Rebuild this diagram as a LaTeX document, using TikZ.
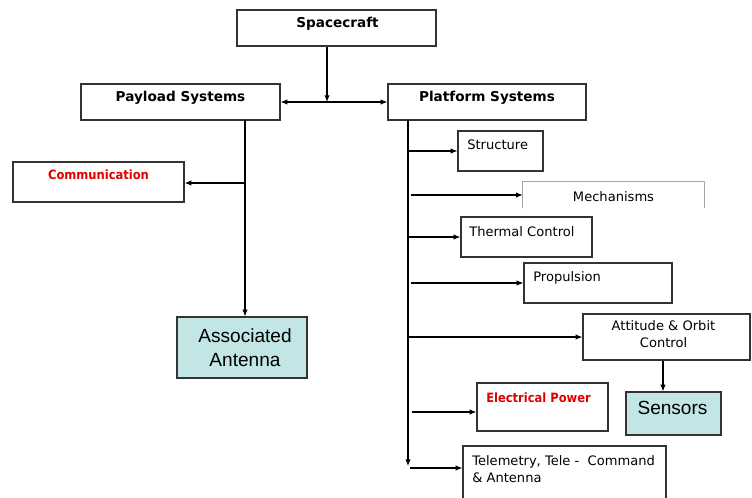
\documentclass[tikz,border=0pt]{standalone}
\usepackage{fontspec}
\setmainfont{DejaVu Sans}
\newfontfamily\arialf{Liberation Sans}
\newfontfamily\condf{DejaVu Sans Condensed}
\usetikzlibrary{arrows.meta}
\definecolor{teal1}{HTML}{C2E5E5}
\definecolor{red1}{HTML}{E00000}
\definecolor{bord}{HTML}{333333}
\tikzset{
  box/.style={draw=bord, line width=0.9pt, rectangle, inner sep=0pt},
  tbox/.style={box, fill=teal1},
  lbl/.style={inner sep=0pt, font=\fontsize{9.8}{12}\selectfont},
  blbl/.style={inner sep=0pt, font=\fontsize{10.2}{12}\selectfont\bfseries},
  rlbl/.style={inner sep=0pt, text=red1, font=\fontsize{9.6}{11}\selectfont\condf\bfseries},
  biglbl/.style={inner sep=0pt, font=\fontsize{14.3}{17}\selectfont\arialf, align=center},
  arr/.style={draw=black, line width=0.8pt, -{Latex[length=5pt,width=4pt]}},
  darr/.style={draw=black, line width=0.8pt, {Latex[length=5pt,width=4pt]}-{Latex[length=5pt,width=4pt]}},
  ln/.style={draw=black, line width=0.8pt}
}
\begin{document}
\begin{tikzpicture}[x=0.75pt, y=-0.75pt]
\useasboundingbox[fill=white] (0,0) rectangle (752,497);

% top level
\node[box, minimum width=199*0.75pt, minimum height=36*0.75pt] (sc) at (336.5,28) {};
\node[blbl] (sct) at (337.5,24) {Spacecraft};
\node[box, minimum width=199*0.75pt, minimum height=36*0.75pt] (pl) at (180.5,102) {};
\node[blbl] (plt) at (180.5,98) {Payload Systems};
\node[box, minimum width=198*0.75pt, minimum height=36*0.75pt] (ps) at (487,102) {};
\node[blbl] (pst) at (487,98) {Platform Systems};

\coordinate (j) at (327,102);
\draw[arr] (sc.south -| j) -- (j);
\draw[darr] (pl.east) -- (ps.west);

% payload side
\node[box, minimum width=171*0.75pt, minimum height=40*0.75pt] (cm) at (98.5,182) {};
\node[rlbl] (cmt) at (98.5,175) {Communication};
\node[tbox, minimum width=130*0.75pt, minimum height=61*0.75pt] (aa) at (242,347.5) {};
\node[biglbl] (aat) at (245,347.5) {Associated\\[1pt]Antenna};
\coordinate (pv) at (245,120);
\coordinate (pvc) at (245,183);
\draw[ln] (pv) -- (pvc);
\draw[arr] (pvc) -- (aa.north -| pvc);
\draw[arr] (pvc) -- (cm.east |- pvc);

% platform side
\coordinate (tr) at (408,120);
\coordinate (trb) at (408,466);
\coordinate (trg) at (411,120);
\draw[arr] (tr) -- (trb);

\node[box, minimum width=85*0.75pt, minimum height=40*0.75pt] (st) at (500.5,151) {};
\node[lbl, anchor=west] (stt) at (467,145) {Structure};
\draw[arr] (tr |- st.west) -- (st.west);

\node[inner sep=0pt, minimum width=181*0.75pt, minimum height=26*0.75pt] (me) at (613.5,195) {};
\draw[draw=gray!70, line width=0.8pt] (me.south west) -- (me.north west) -- (me.north east) -- (me.south east);
\node[lbl] (met) at (613.5,197) {Mechanisms};
\draw[arr] (trg |- me.west) -- (me.west);

\node[box, minimum width=131*0.75pt, minimum height=40*0.75pt] (th) at (526.5,237) {};
\node[lbl, anchor=west] (tht) at (469,232) {Thermal Control};
\draw[arr] (tr |- th.west) -- (th.west);

\node[box, minimum width=148*0.75pt, minimum height=40*0.75pt] (pr) at (598,283) {};
\node[lbl, anchor=west] (prt) at (533,278) {Propulsion};
\draw[arr] (trg |- pr.west) -- (pr.west);

\node[box, minimum width=167*0.75pt, minimum height=46*0.75pt] (ao) at (666.5,337) {};
\node[lbl, align=center] (aot) at (663.5,334) {Attitude \& Orbit\\[1pt]Control};
\draw[arr] (tr |- ao.west) -- (ao.west);

\node[tbox, minimum width=95*0.75pt, minimum height=43*0.75pt] (se) at (673.5,413.5) {};
\node[biglbl] (set) at (672.5,408) {Sensors};
\coordinate (aob) at (663,360);
\draw[arr] (ao.south -| aob) -- (se.north -| aob);

\node[box, minimum width=131*0.75pt, minimum height=48*0.75pt] (ep) at (542.5,407) {};
\node[rlbl, anchor=west] (ept) at (486,398) {Electrical Power};
\coordinate (epa) at (412,412);
\draw[arr] (epa) -- (ep.west |- epa);

\node[box, minimum width=203*0.75pt, minimum height=60*0.75pt] (te) at (564.5,476) {};
\node[lbl, anchor=west, align=left] (tet) at (472,469) {Telemetry, Tele -\ \ Command\\[1pt]\& Antenna};
\coordinate (tea) at (410,468);
\draw[arr] (tea) -- (te.west |- tea);
\end{tikzpicture}
\end{document}
